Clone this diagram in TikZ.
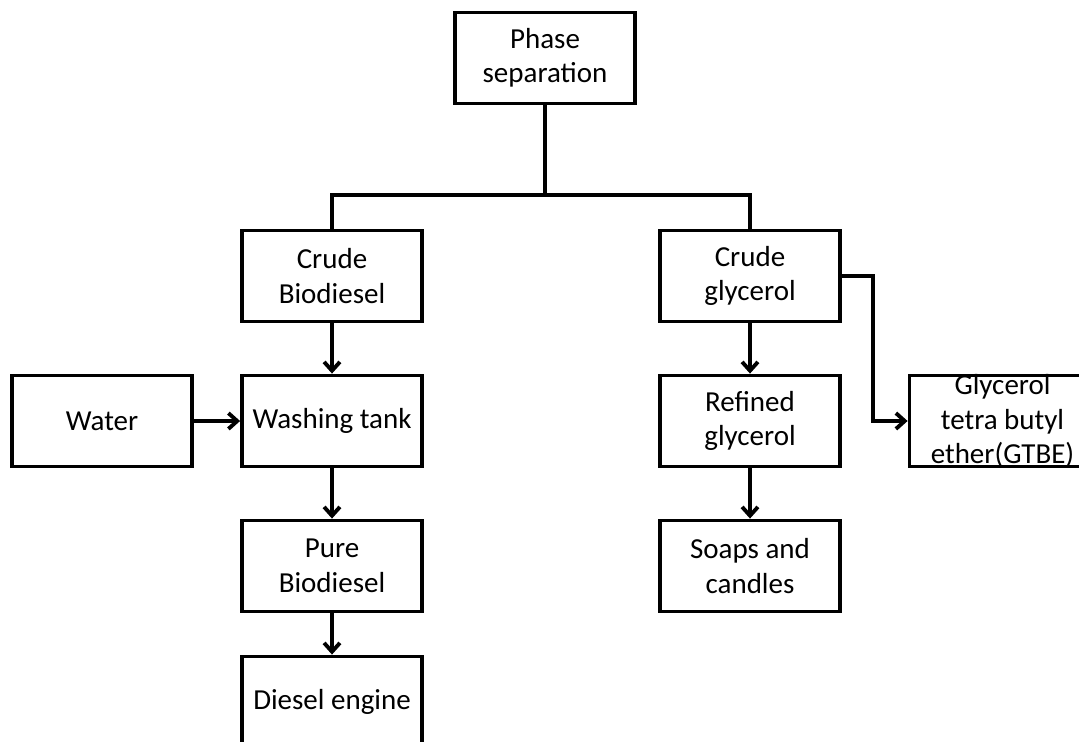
\documentclass[tikz,border=0pt]{standalone}
\usepackage{fontspec}
\setmainfont{Carlito}
\usetikzlibrary{arrows.meta, positioning}
\tikzset{
  every picture/.style={line width=2.2pt},
  box/.style={draw, rectangle, align=center, inner sep=2pt, minimum width=3.6cm, minimum height=1.82cm, font=\fontsize{16.5}{19.6}\selectfont},
  link/.style={draw, line width=2.2pt},
  arrow/.style={link, -{Straight Barb[length=5pt, width=9pt, line width=2.2pt]}},
}

\begin{document}
\begin{tikzpicture}[x=0.02cm, y=-0.02cm]
  \useasboundingbox (0,0) rectangle (1079,741);
  \begin{scope}
  \clip (0,0) rectangle (1079,741);
  \node[box] (ps) at (545,58) {Phase\\separation};
  \node[box] (cb) at (332,276) {Crude\\Biodiesel};
  \node[box] (cg) at (750,276) {Crude\\glycerol};
  \node[box] (wa) at (102,421) {Water};
  \node[box] (wt) at (332,421) {Washing tank};
  \node[box] (rg) at (750,421) {Refined\\glycerol};
  \node[box, inner ysep=-3pt, minimum width=3.9cm] (gt) at (1007,421) {\hspace*{-0.18cm}Glycerol\\\hspace*{-0.18cm}tetra butyl\\\hspace*{-0.18cm}ether(GTBE)};
  \node[box] (pb) at (332,566) {Pure\\Biodiesel};
  \node[box] (sc) at (750,566) {Soaps and\\candles};
  \node[box] (de) at (332,702) {Diesel engine};
  % split after phase separation
  \coordinate (split) at (545,195);
  \draw[link] (ps.south) -- (split) -| (cb.north);
  \draw[link] (split) -| (cg.north);
  % biodiesel line
  \foreach \a/\b in {cb/wt, wt/pb, pb/de, wa/wt, cg/rg, rg/sc}
    \draw[arrow] (\a) -- (\b);
  % glycerol to GTBE
  \coordinate (bend) at (873,276);
  \draw[arrow] (cg.east) -- (bend) |- (gt.west);
  \end{scope}
\end{tikzpicture}
\end{document}
